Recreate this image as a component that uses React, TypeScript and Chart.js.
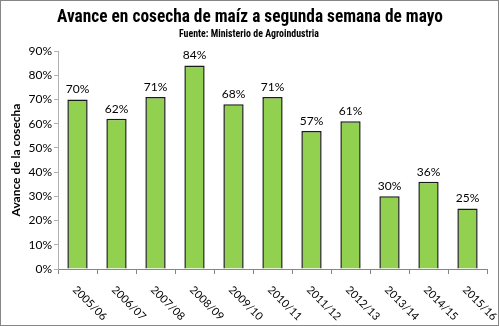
import React, { useEffect, useRef } from "react";
import { Chart, registerables } from "chart.js";

Chart.register(...registerables);

const categories = ["2005/06", "2006/07", "2007/08", "2008/09", "2009/10", "2010/11", "2011/12", "2012/13", "2013/14", "2014/15", "2015/16"];
const avance = [70, 62, 71, 84, 68, 71, 57, 61, 30, 36, 25];
const yTicks = [0, 10, 20, 30, 40, 50, 60, 70, 80, 90];
const titleText = "Avance en cosecha de maíz a segunda semana de mayo";
const subtitleText = "Fuente: Ministerio de Agroindustria";
const yTitle = "Avance de la cosecha";

const tickFont = "Lato, 'Noto Sans', sans-serif";
const narrowFont = "'Liberation Sans Narrow', 'Roboto Condensed', Roboto, sans-serif";

const extras = {
  id: "extras",
  afterDraw(chart: any) {
    const ctx = chart.ctx;
    const xs = chart.scales.x;
    const ys = chart.scales.y;
    ctx.save();
    // rotated x labels
    ctx.fillStyle = "#000";
    ctx.font = `11px ${tickFont}`;
    ctx.textAlign = "left";
    ctx.textBaseline = "middle";
    categories.forEach((c, i) => {
      const x = xs.getPixelForTick(i);
      ctx.save();
      ctx.translate(x - 3, ys.bottom + 19);
      ctx.rotate(Math.PI / 4);
      ctx.fillText(c, 0, 0);
      ctx.restore();
    });
    // data labels
    const meta = chart.getDatasetMeta(0);
    ctx.font = `12px ${tickFont}`;
    ctx.textAlign = "center";
    ctx.textBaseline = "bottom";
    meta.data.forEach((bar: any, i: number) => {
      ctx.fillText(avance[i] + "%", bar.x, bar.y - 4);
    });
    // titles
    ctx.font = `bold 19px ${narrowFont}`;
    ctx.textBaseline = "middle";
    ctx.fillText(titleText, 250, 17, 386);
    ctx.font = `bold 11px ${narrowFont}`;
    ctx.fillText(subtitleText, 249, 34, 140);
    // y title
    ctx.save();
    ctx.translate(16, (ys.top + ys.bottom) / 2);
    ctx.rotate(-Math.PI / 2);
    ctx.font = `bold 12px ${tickFont}`;
    ctx.fillText(yTitle, 0, 0);
    ctx.restore();
    // border
    ctx.strokeStyle = "#868686";
    ctx.lineWidth = 1;
    ctx.strokeRect(0.5, 0.5, chart.width - 1, chart.height - 1);
    ctx.restore();
  },
};

export default function App() {
  const ref = useRef<HTMLCanvasElement>(null);
  useEffect(() => {
    document.body.style.margin = "0";
    const chart = new Chart(ref.current!, {
      type: "bar",
      data: {
        labels: categories,
        datasets: [
          {
            data: avance,
            backgroundColor: "#92D050",
            borderColor: "#1a1a1a",
            borderWidth: 1.5,
            categoryPercentage: 1,
            barPercentage: 0.52,
          },
        ],
      },
      options: {
        animation: false,
        responsive: false,
        devicePixelRatio: 1,
        layout: { padding: { left: 0, right: 12, top: 51, bottom: 0 } },
        plugins: { legend: { display: false }, tooltip: { enabled: false } },
        scales: {
          x: {
            grid: { display: true, drawOnChartArea: false, drawTicks: true, tickLength: 5, color: "#868686", offset: true },
            border: { color: "#868686", width: 1 },
            ticks: { display: false },
            afterFit: (s: any) => { s.height = 57; },
          },
          y: {
            min: 0,
            max: 90,
            afterBuildTicks: (s: any) => { s.ticks = yTicks.map((v) => ({ value: v })); },
            grid: { display: true, drawOnChartArea: false, drawTicks: true, tickLength: 4, color: "#b0b0b0" },
            border: { color: "#b0b0b0", width: 1 },
            ticks: {
              font: { family: tickFont, size: 12 },
              color: "#000",
              padding: 2,
              callback: (v: any) => v + "%",
            },
            afterFit: (s: any) => { s.width = 58; },
          },
        },
      },
      plugins: [extras],
    });
    return () => chart.destroy();
  }, []);
  return <canvas ref={ref} width={499} height={326} style={{ display: "block" }} />;
}
